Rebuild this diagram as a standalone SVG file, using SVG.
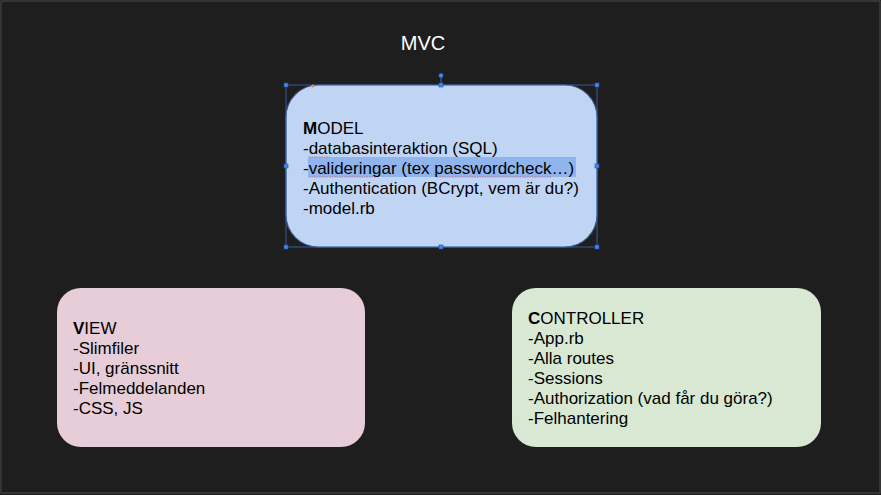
<svg xmlns="http://www.w3.org/2000/svg" width="881" height="495" viewBox="0 0 881 495">
<defs>
<style>
.t{font-family:"Liberation Sans",Arial,sans-serif;font-size:17px;fill:#000}
.b{font-weight:bold}
.h{fill:#4a86e8;stroke:#1c4fa8;stroke-width:0.6}
.sq{fill:none;stroke:#e06666;stroke-width:0.8;stroke-dasharray:1.5 1}
</style>
</defs>
<rect x="0" y="0" width="881" height="495" fill="#1e1e1e"/>
<rect x="1" y="1" width="879" height="492" fill="none" stroke="#4a4a4a" stroke-width="1"/>
<text x="423" y="50" text-anchor="middle" font-family="Liberation Sans, Arial, sans-serif" font-size="20" fill="#ffffff">MVC</text>
<g id="model">
<rect x="286" y="85" width="311" height="162" rx="32" ry="32" fill="#c0d5f3" stroke="#3a5480" stroke-width="1.2"/>
<rect x="308" y="157" width="268" height="20" fill="#8fb4ee"/>
<text class="t" x="303" y="134"><tspan class="b">M</tspan>ODEL</text>
<text class="t" x="303" y="154">-databasinteraktion (SQL)</text>
<text class="t" x="303" y="174">-valideringar (tex passwordcheck…)</text>
<text class="t" x="303" y="194">-Authentication (BCrypt, vem är du?)</text>
<text class="t" x="303" y="214">-model.rb</text>
<path class="sq" d="M309 177 H376 M437 177 H552 M309 157 H330"/>
</g>
<g id="view">
<rect x="57" y="288" width="308" height="159" rx="24" ry="24" fill="#e6cdd7"/>
<text class="t" x="73" y="334"><tspan class="b">V</tspan>IEW</text>
<text class="t" x="73" y="354">-Slimfiler</text>
<text class="t" x="73" y="374">-UI, gränssnitt</text>
<text class="t" x="73" y="394">-Felmeddelanden</text>
<text class="t" x="73" y="414">-CSS, JS</text>
</g>
<g id="controller">
<rect x="512" y="288" width="309" height="159" rx="24" ry="24" fill="#d8e8d3"/>
<text class="t" x="528" y="324"><tspan class="b">C</tspan>ONTROLLER</text>
<text class="t" x="528" y="344">-App.rb</text>
<text class="t" x="528" y="364">-Alla routes</text>
<text class="t" x="528" y="384">-Sessions</text>
<text class="t" x="528" y="404">-Authorization (vad får du göra?)</text>
<text class="t" x="528" y="424">-Felhantering</text>
</g>
<g id="connectors"></g>
<g id="selection">
<line x1="441" y1="76" x2="441" y2="85" stroke="#4a86e8" stroke-width="0.8"/>
<rect x="286" y="85" width="311" height="162" fill="none" stroke="#4a86e8" stroke-width="0.6"/>
<circle cx="441" cy="75.5" r="2.2" class="h"/>
<rect class="h" x="284" y="83" width="4" height="4"/>
<rect class="h" x="439" y="83" width="4" height="4"/>
<rect class="h" x="595" y="83" width="4" height="4"/>
<rect class="h" x="284" y="164" width="4" height="4"/>
<rect class="h" x="595" y="164" width="4" height="4"/>
<rect class="h" x="284" y="245" width="4" height="4"/>
<rect class="h" x="439" y="245" width="4" height="4"/>
<rect class="h" x="595" y="245" width="4" height="4"/>
<circle cx="313" cy="86" r="1.5" fill="#e69138"/>
</g>
</svg>
